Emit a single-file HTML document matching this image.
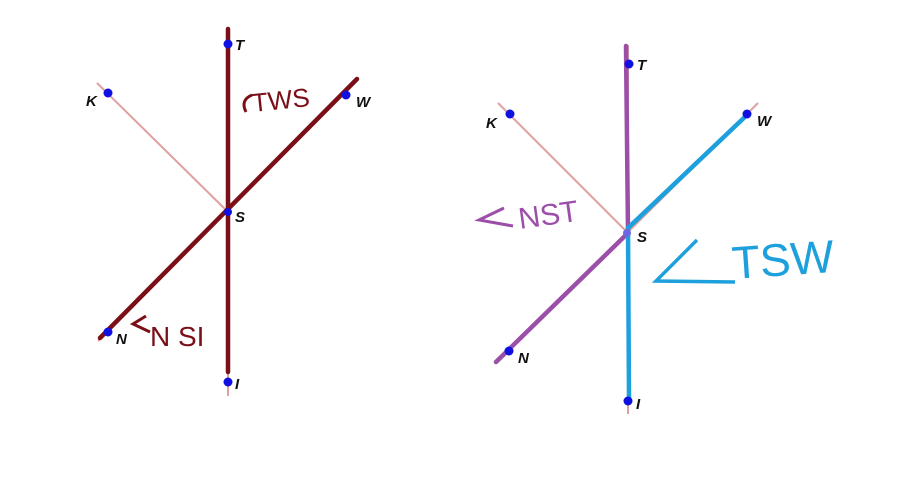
<!DOCTYPE html>
<html><head><meta charset="utf-8"><style>
html,body{margin:0;padding:0;background:#fff;}
svg{display:block;}
.lbl{font-family:"Liberation Sans",sans-serif;font-weight:bold;font-style:italic;font-size:15px;fill:#111;}
.hw{font-family:"Liberation Sans",sans-serif;font-weight:normal;}
</style></head><body>
<svg width="900" height="477" viewBox="0 0 900 477" xmlns="http://www.w3.org/2000/svg">
<rect width="900" height="477" fill="#fff"/>
<!-- LEFT -->
<g stroke="#e0a0a0" stroke-width="2" fill="none">
<line x1="97" y1="83" x2="228" y2="212"/>
<line x1="228" y1="30" x2="228" y2="396"/>
<line x1="98" y1="341" x2="358" y2="79"/>
</g>
<g stroke="#7a0f18" stroke-width="4.5" fill="none" stroke-linecap="round">
<line x1="228" y1="29" x2="228" y2="372"/>
<line x1="100" y1="338" x2="357" y2="79"/>
</g>
<g fill="#1010e0">
<circle cx="228" cy="44" r="4.5"/><circle cx="108" cy="93" r="4.5"/><circle cx="346" cy="95" r="4.5"/>
<circle cx="228" cy="212" r="4"/><circle cx="108" cy="332" r="4.5"/><circle cx="228" cy="382" r="4.5"/>
</g>
<text class="lbl" x="235" y="50">T</text>
<text class="lbl" x="86" y="106">K</text>
<text class="lbl" x="356" y="107">W</text>
<text class="lbl" x="235" y="222">S</text>
<text class="lbl" x="116" y="344">N</text>
<text class="lbl" x="235" y="389">I</text>
<path d="M252 95 Q240 100 246 112" stroke="#7a0f18" stroke-width="3" fill="none"/>
<text class="hw" x="253" y="112" font-size="26" fill="#7a0f18" transform="rotate(-6 253 112)">TWS</text>
<path d="M146 316 L133 324 L150 332" stroke="#7a0f18" stroke-width="3" fill="none"/>
<text class="hw" x="150" y="346" font-size="28" fill="#7a0f18">N SI</text>
<!-- RIGHT -->
<g stroke="#e0a0a0" stroke-width="2" fill="none">
<line x1="498" y1="103" x2="628" y2="233"/>
<line x1="628" y1="45" x2="628" y2="414"/>
<line x1="497" y1="362" x2="758" y2="103"/>
</g>
<g stroke-width="4.5" fill="none" stroke-linecap="round">
<path d="M626 46 L628 233 L496 362" stroke="#9b4fa8"/>
<path d="M748 114 L628 228 L629 400" stroke="#1ea0dd"/>
</g>
<g fill="#1010e0">
<circle cx="629" cy="64" r="4.5"/><circle cx="510" cy="114" r="4.5"/><circle cx="747" cy="114" r="4.5"/>
<circle cx="627" cy="233" r="4" fill="#6a6ae0"/><circle cx="509" cy="351" r="4.5"/><circle cx="628" cy="401" r="4.5"/>
</g>
<text class="lbl" x="637" y="70">T</text>
<text class="lbl" x="486" y="128">K</text>
<text class="lbl" x="757" y="126">W</text>
<text class="lbl" x="637" y="242">S</text>
<text class="lbl" x="518" y="363">N</text>
<text class="lbl" x="636" y="409">I</text>
<path d="M504 208 L479 220 L513 226" stroke="#9b4fa8" stroke-width="3" fill="none"/>
<text class="hw" x="520" y="229" font-size="30" fill="#9b4fa8" transform="rotate(-8 520 229)">NST</text>
<path d="M697 240 L656 281 L735 282" stroke="#1ea0dd" stroke-width="3.5" fill="none"/>
<text class="hw" x="733" y="279" font-size="46" fill="#1ea0dd" transform="rotate(-4 733 279)">TSW</text>
</svg>
</body></html>
